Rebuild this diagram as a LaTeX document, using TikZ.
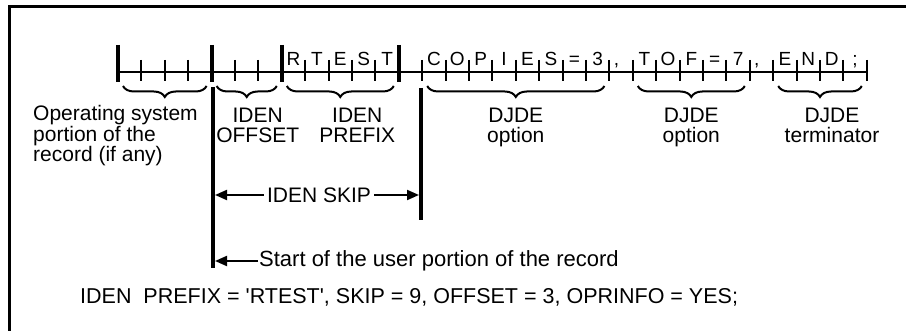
\documentclass[tikz,border=0pt]{standalone}
\usepackage{fontspec}
\setmainfont{Liberation Sans}[Ligatures=TeXOff]
\usetikzlibrary{arrows.meta, positioning, decorations.pathreplacing}

\begin{document}
\begin{tikzpicture}[
  x=1pt, y=1pt,
  font=\fontsize{21}{19.5}\selectfont,
  recline/.style={line width=2.5pt},
  celltick/.style={line width=2pt},
  fieldtick/.style={line width=4pt},
  wall/.style={line width=4pt},
  chr/.style={font=\fontsize{19}{20}\selectfont, inner sep=0pt, anchor=base},
  brc/.style={decorate, decoration={brace, mirror, amplitude=11pt}, line width=2pt},
  lbl/.style={align=center, anchor=base, inner sep=0pt},
  arr/.style={-{Triangle[length=12pt, width=10pt]}, line width=2pt}
]

  \useasboundingbox (0,0) rectangle (906,-331);

  % Rahmen (oben und links)
  \draw[line width=3pt] (9,-331) -- (9,-7) -- (906,-7);

  % Satz: Zellenlinie mit Strichen
  \coordinate (r0) at (118,-72);
  \coordinate (r32) at (867,-72);
  \draw[recline] (r0) -- (r32);
  \foreach \i in {0,...,32}
    \draw[celltick] (118+23.4*\i,-60) -- (118+23.4*\i,-81);
  \foreach \i in {0,4,7,12}
    \draw[fieldtick] (118+23.4*\i,-45) -- (118+23.4*\i,-82);

  % Zeichen im Satz
  \foreach \i/\c in {7/R,8/T,9/E,10/S,11/T,13/C,14/O,15/P,16/I,17/E,18/S,19/=,20/3,
                     22/T,23/O,24/F,25/=,26/7,28/E,29/N,30/D,31/;}
    \node[chr] (ch\i) at (118+23.4*\i+11.7,-66) {\c};
  \foreach \i in {21,27}
    \node[chr] (ch\i) at (118+23.4*\i+7,-66) {,};

  % Klammern unter den Feldern
  \foreach \a/\b/\n in {0/4/os, 4/7/off, 7/12/pre, 13/21/dja, 22/27/djb, 28/32/term}{
    \draw[brc] (118+23.4*\a+5,-86) -- (118+23.4*\b-5,-86);
    \coordinate (\n) at (118+11.7*\a+11.7*\b,-142.2);
  }

  % Beschriftungen
  \node[lbl, anchor=base west, align=left] (oslbl) at (33,-161.7) {Operating system\\portion of the\\record (if any)};
  \node[lbl] (offlbl) at ([xshift=11pt]off) {IDEN\\OFFSET};
  \node[lbl] (prelbl) at ([xshift=17pt]pre) {IDEN\\PREFIX};
  \node[lbl] (djalbl) at (dja) {DJDE\\option};
  \node[lbl] (djblbl) at (djb) {DJDE\\option};
  \node[lbl] (termlbl) at ([xshift=12pt]term) {DJDE\\terminator};

  % Senkrechte Marken
  \coordinate (usrtop) at (213,-87);
  \coordinate (usrbot) at (213,-268);
  \coordinate (skiptop) at (421,-88);
  \coordinate (skipbot) at (421,-220);
  \draw[wall] (usrtop) -- (usrbot);
  \draw[wall] (skiptop) -- (skipbot);

  % IDEN SKIP
  \node (skip) at (319,-195) {IDEN SKIP};
  \coordinate (skipl) at (215,-195);
  \coordinate (skipr) at (419,-195);
  \draw[arr] (skip) -- (skipl);
  \draw[arr] (skip) -- (skipr);

  % Beginn des Benutzerteils
  \node[anchor=west, inner sep=1pt, font=\fontsize{22}{24}\selectfont] (start) at (258,-261) {Start of the user portion of the record};
  \coordinate (usrl) at (215,-261);
  \draw[arr] (start) -- (usrl);

  % Befehl
  \node[anchor=west, inner sep=0pt, font=\fontsize{21.5}{24}\selectfont] (iden) at (80,-297) {IDEN\ \ PREFIX = 'RTEST', SKIP = 9, OFFSET = 3, OPRINFO = YES;};

\end{tikzpicture}
\end{document}
